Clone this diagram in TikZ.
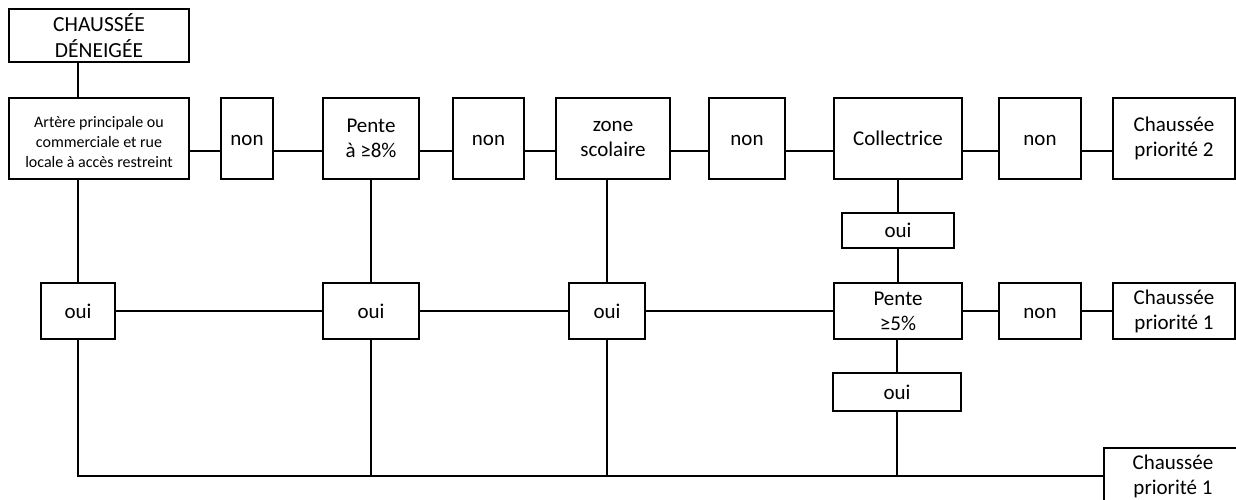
\documentclass[tikz,border=0pt]{standalone}
\usepackage{fontspec}
\setmainfont{Carlito}
\usepackage{tikz}

\tikzset{
	box/.style={draw, line width=1.6pt, align=center, inner sep=1pt, font=\fontsize{21}{25}\selectfont},
	one/.style={text height=16pt, text depth=2pt},
	rowa/.style={box, minimum height=81pt},
	rowb/.style={box, minimum height=56pt},
	link/.style={line width=1.6pt}
}

\begin{document}
\begin{tikzpicture}[x=1pt,y=-1pt]
		% page frame
		\useasboundingbox (0,0) rectangle (1236,500);
		
		% height of the first connecting line
		\coordinate (rowa) at (0,151);
		
		% Start box
		\node[box, minimum width=180pt, minimum height=53pt, font=\fontsize{21.5}{26}\selectfont] (start) at (99,35.5) {CHAUSSÉE\\DÉNEIGÉE};
		
		% First row: questions and non
		\node[rowa, minimum width=180pt, font=\fontsize{16}{20}\selectfont] (artere) at (99,138.5) {\rule{0pt}{19pt}Artère principale ou\\commerciale et rue\\locale à accès restreint};
		\node[rowa, one, minimum width=52pt] (nona) at (247,138.5) {non};
		\node[rowa, minimum width=96pt] (pentehuit) at (371,138.5) {Pente\\à ≥8\%};
		\node[rowa, one, minimum width=71pt] (nonb) at (488.5,138.5) {non};
		\node[rowa, minimum width=114pt] (zone) at (613,138.5) {zone\\scolaire};
		\node[rowa, one, minimum width=76pt] (nonc) at (747,138.5) {non};
		\node[rowa, one, minimum width=128pt] (coll) at (898,138.5) {Collectrice};
		\node[rowa, one, minimum width=82pt] (nond) at (1040,138.5) {non};
		\node[rowa, minimum width=122pt] (prioa) at (1174,138.5) {Chaussée\\priorité 2};
		
		% oui under Collectrice
		\node[box, one, minimum width=112pt, minimum height=35pt] (ouid) at (898,230.5) {oui};
		
		% Second row
		\node[rowb, one, minimum width=74pt] (ouia) at (78,311) {oui};
		\node[rowb, one, minimum width=96pt] (ouib) at (371,311) {oui};
		\node[rowb, one, minimum width=76pt] (ouic) at (607,311) {oui};
		\node[rowb, minimum width=128pt] (pentecinq) at (898,311) {Pente\\≥5\%};
		\node[rowb, one, minimum width=82pt] (none) at (1040,311) {non};
		\node[rowb, minimum width=122pt] (priob) at (1174,311) {Chaussée\\priorité 1};
		
		% oui under Pente 5%
		\node[box, one, minimum width=128pt, minimum height=38pt] (ouie) at (897,392) {oui};
		
		% End box, cut by the page
		\node[rowb, minimum width=138pt] (prioc) at (1173,476) {Chaussée\\priorité 1};
		
		% Vertical links
		\draw[link] (start.south -| ouia) -- (artere.north -| ouia);
		\draw[link] (artere.south -| ouia) -- (ouia.north);
		\draw[link] (pentehuit.south) -- (ouib.north);
		\draw[link] (zone.south -| ouic) -- (ouic.north);
		\draw[link] (coll.south) -- (ouid.north);
		\draw[link] (ouid.south) -- (pentecinq.north);
		\draw[link] (pentecinq.south -| ouie) -- (ouie.north);
		
		% First row links
		\draw[link] (artere.east |- rowa) -- (nona.west |- rowa);
		\draw[link] (nona.east |- rowa) -- (pentehuit.west |- rowa);
		\draw[link] (pentehuit.east |- rowa) -- (nonb.west |- rowa);
		\draw[link] (nonb.east |- rowa) -- (zone.west |- rowa);
		\draw[link] (zone.east |- rowa) -- (nonc.west |- rowa);
		\draw[link] (nonc.east |- rowa) -- (coll.west |- rowa);
		\draw[link] (coll.east |- rowa) -- (nond.west |- rowa);
		\draw[link] (nond.east |- rowa) -- (prioa.west |- rowa);
		
		% Second row links
		\draw[link] (ouia) -- (ouib);
		\draw[link] (ouib) -- (ouic);
		\draw[link] (ouic) -- (pentecinq);
		\draw[link] (pentecinq) -- (none);
		\draw[link] (none) -- (priob);
		
		% Bottom line to the end box
		\draw[link] (ouia.south) |- (prioc.west);
		\draw[link] (ouib.south) -- (ouib.south |- prioc.west);
		\draw[link] (ouic.south) -- (ouic.south |- prioc.west);
		\draw[link] (ouie.south) -- (ouie.south |- prioc.west);
		
		\end{tikzpicture}
\end{document}
